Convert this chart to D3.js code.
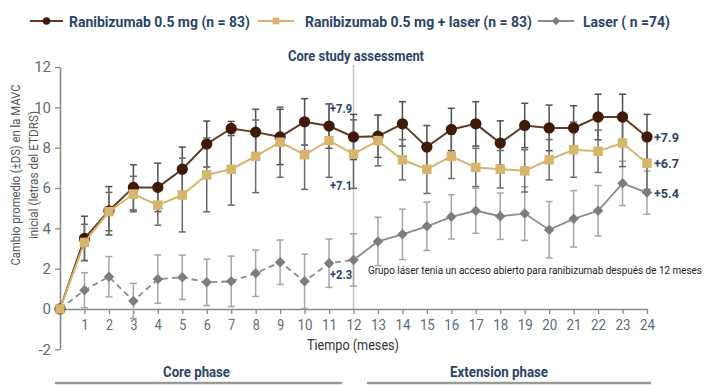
<!DOCTYPE html>
<html>
<head>
<meta charset="utf-8">
<script src="https://cdn.jsdelivr.net/npm/d3@7"></script>
<style>
  body { margin: 0; background: #fff; }
  text { font-family: Roboto, "Noto Sans", sans-serif; }
</style>
</head>
<body>
<svg width="711" height="385"></svg>
<script>
// months on the x axis
const months = [0, 1, 2, 3, 4, 5, 6, 7, 8, 9, 10, 11, 12, 13, 14, 15, 16, 17, 18, 19, 20, 21, 22, 23, 24];
const yTicks = [-2, 0, 2, 4, 6, 8, 10, 12];

// mean change in BCVA (letters)
const ranibizumab = [0, 3.5, 4.87, 6.03, 6.03, 6.93, 8.18, 8.95, 8.77, 8.53, 9.28, 9.07, 8.53, 8.57, 9.18, 8.03, 8.9, 9.18, 8.23, 9.1, 8.98, 8.98, 9.52, 9.52, 8.53];
const ranibizumabSD = [0, 1.1, 1.2, 1.12, 1.2, 1.1, 1.14, 0.35, 1.13, 1.37, 1.15, 1.1, 1.12, 1.05, 1.1, 1.07, 1.05, 1.1, 1.1, 1.1, 1.13, 1.1, 1.13, 1.13, 1.12];

const combo = [0, 3.3, 4.83, 5.7, 5.15, 5.65, 6.65, 6.93, 7.57, 8.27, 7.65, 8.35, 7.68, 8.35, 7.4, 6.93, 7.57, 7.02, 6.93, 6.85, 7.4, 7.9, 7.82, 8.23, 7.23];
const comboSD = [0, 0.9, 0.95, 0.88, 1.0, 1.83, 1.83, 1.78, 1.8, 1.74, 1.72, 1.82, 1.7, 1.25, 1.0, 1.2, 1.1, 0.95, 0.93, 1.05, 1.0, 1.37, 1.05, 1.17, 1.3];

const laser = [0, 0.93, 1.6, 0.4, 1.48, 1.57, 1.32, 1.37, 1.77, 2.32, 1.37, 2.27, 2.43, 3.35, 3.7, 4.1, 4.57, 4.87, 4.6, 4.73, 3.93, 4.47, 4.87, 6.23, 5.77];
const laserSD = [0, 0.87, 1.0, 0.87, 1.2, 1.1, 1.15, 1.25, 1.15, 1.1, 1.35, 1.2, 1.3, 1.2, 1.25, 1.2, 1.1, 1.12, 1.15, 1.33, 1.4, 1.4, 1.25, 1.1, 1.07];

const legendLabels = ["Ranibizumab 0.5 mg (n = 83)", "Ranibizumab 0.5 mg + laser (n = 83)", "Laser ( n =74)"];

const navy = "#2a4566";
const svg = d3.select("svg");

// squeeze text to the condensed widths of the original
function fit(sel, w) {
  return sel.attr("textLength", w).attr("lengthAdjust", "spacingAndGlyphs");
}

const x = d3.scaleLinear().domain([0, 24]).range([60, 647]);
const y = d3.scaleLinear().domain([-2, 12]).range([349.3, 67]);

// month 12 divider
svg.append("line")
  .attr("x1", x(12)).attr("x2", x(12))
  .attr("y1", 65).attr("y2", y(0))
  .attr("stroke", "#c4c4c4").attr("stroke-width", 1.5);

fit(svg.append("text")
  .attr("x", 288).attr("y", 61)
  .attr("font-size", 15).attr("font-weight", "bold")
  .attr("fill", navy)
  .text("Core study assessment"), 136);

// axes
const yAxis = svg.append("g")
  .attr("transform", "translate(60,0)")
  .call(d3.axisLeft(y).tickValues(yTicks).tickSize(5).tickSizeOuter(0).tickPadding(4)
    .tickFormat(d => (d < 0 ? "-" + Math.abs(d) : d)));
const xAxis = svg.append("g")
  .attr("transform", `translate(0,${y(0)})`)
  .call(d3.axisBottom(x).tickValues(months.slice(1)).tickSize(5).tickSizeOuter(0).tickPadding(5));

[yAxis, xAxis].forEach(g => {
  g.select(".domain").attr("stroke", "#8a8a8a").attr("stroke-width", 1.6);
  g.selectAll(".tick line").attr("stroke", "#8a8a8a").attr("stroke-width", 1.3);
  g.selectAll(".tick text").attr("fill", "#5c6b7a").attr("font-size", 15)
    .style("font-family", "Roboto, sans-serif");
});
xAxis.selectAll(".tick text").each(function (d) {
  fit(d3.select(this), d < 10 ? 7 : 15);
});

fit(svg.append("text")
  .attr("x", 307).attr("y", 350)
  .attr("font-size", 14).attr("fill", "#333")
  .text("Tiempo (meses)"), 92);

const yTitle = svg.append("text")
  .attr("transform", "translate(20,175) rotate(-90)")
  .attr("text-anchor", "middle")
  .attr("font-size", 13).attr("fill", "#555");
fit(yTitle.append("tspan").attr("x", 0).attr("dy", 0), 181).text("Cambio promedio (±DS) en la MAVC");
fit(yTitle.append("tspan").attr("x", 0).attr("dy", 18), 128).text("inicial (letras del ETDRS)");

// series
const series = [
  { values: laser, sd: laserSD, line: "#8c8c8c", bar: "#a6a6a6", marker: "diamond", fill: "#7d7d7d" },
  { values: ranibizumab, sd: ranibizumabSD, line: "#5e3b27", bar: "#4f4f4f", marker: "circle", fill: "#3f1a08" },
  { values: combo, sd: comboSD, line: "#d6b46e", bar: "#6a6a6a", marker: "square", fill: "#d8b56d" }
];

const cap = 3.5;
series.forEach(s => {
  const g = svg.append("g");
  months.forEach((m, i) => {
    if (s.sd[i] === 0) return;
    const top = y(s.values[i] + s.sd[i]), bot = y(s.values[i] - s.sd[i]);
    g.append("line").attr("x1", x(m)).attr("x2", x(m)).attr("y1", top).attr("y2", bot)
      .attr("stroke", s.bar).attr("stroke-width", 1.5);
    [top, bot].forEach(v => g.append("line")
      .attr("x1", x(m) - cap).attr("x2", x(m) + cap).attr("y1", v).attr("y2", v)
      .attr("stroke", s.bar).attr("stroke-width", 1.5));
  });
});

const line = d3.line().x(d => x(d[0])).y(d => y(d[1]));
const symbols = {
  circle: d3.symbol().type(d3.symbolCircle).size(100),
  square: d3.symbol().type(d3.symbolSquare).size(90),
  diamond: d3.symbol().type(d3.symbolDiamond2).size(70)
};

series.forEach(s => {
  const pts = months.map((m, i) => [m, s.values[i]]);
  if (s.marker === "diamond") {
    svg.append("path").attr("d", line(pts.slice(0, 13)))
      .attr("fill", "none").attr("stroke", s.line).attr("stroke-width", 1.8)
      .attr("stroke-dasharray", "6,4");
    svg.append("path").attr("d", line(pts.slice(12)))
      .attr("fill", "none").attr("stroke", s.line).attr("stroke-width", 1.8);
  } else {
    svg.append("path").attr("d", line(pts))
      .attr("fill", "none").attr("stroke", s.line).attr("stroke-width", 2);
  }
  svg.append("g").selectAll("path").data(pts).join("path")
    .attr("transform", d => `translate(${x(d[0])},${y(d[1])})`)
    .attr("d", symbols[s.marker])
    .attr("fill", s.fill);
});

// annotations
const notes = [
  { m: 11, v: 9.9, t: "+7.9" }, { m: 11, v: 6.1, t: "+7.1" }, { m: 11, v: 1.7, t: "+2.3" }
];
svg.append("g").selectAll("text").data(notes).join("text")
  .attr("x", d => x(d.m) + 1).attr("y", d => y(d.v) + 4)
  .attr("font-size", 12).attr("font-weight", "bold").attr("fill", navy)
  .attr("textLength", 22).attr("lengthAdjust", "spacingAndGlyphs")
  .text(d => d.t);

const endNotes = [
  { v: ranibizumab[24], t: "+7.9" }, { v: combo[24], t: "+6.7" }, { v: laser[24], t: "+5.4" }
];
svg.append("g").selectAll("text").data(endNotes).join("text")
  .attr("x", x(24) + 7).attr("y", d => y(d.v) + 5)
  .attr("font-size", 13).attr("font-weight", "bold").attr("fill", navy)
  .attr("textLength", 25).attr("lengthAdjust", "spacingAndGlyphs")
  .text(d => d.t);

fit(svg.append("text")
  .attr("x", 368).attr("y", 274)
  .attr("font-size", 10).attr("fill", "#222")
  .text("Grupo láser tenia un acceso abierto para ranibizumab después de 12 meses"), 334);

// legend
const legendLine0 = [30, 258, 538];
const legendLine1 = [63, 294, 574];
const legendText = [69, 305, 583];
const legendWidth = [181, 227, 87];
const legendSym = [d3.symbolCircle, d3.symbolSquare, d3.symbolDiamond2];
const legendLine = ["#5e3b27", "#d6b46e", "#8c8c8c"];
const legendFill = ["#3f1a08", "#d8b56d", "#7d7d7d"];
legendLabels.forEach((lab, i) => {
  const g = svg.append("g").attr("transform", "translate(0,21)");
  g.append("line").attr("x1", legendLine0[i]).attr("x2", legendLine1[i])
    .attr("stroke", legendLine[i]).attr("stroke-width", 2);
  g.append("path").attr("transform", `translate(${(legendLine0[i] + legendLine1[i]) / 2},0)`)
    .attr("d", d3.symbol().type(legendSym[i]).size(45))
    .attr("fill", legendFill[i]);
  fit(g.append("text").attr("x", legendText[i]).attr("y", 5.5)
    .attr("font-size", 15).attr("font-weight", "bold").attr("fill", navy)
    .text(lab), legendWidth[i]);
});

// phase labels
const phases = [
  { t: "Core phase", a: 55, b: 342, tx: 163, w: 67 },
  { t: "Extension phase", a: 367, b: 651, tx: 450, w: 98 }
];
phases.forEach(p => {
  svg.append("line").attr("x1", p.a).attr("x2", p.b).attr("y1", 383).attr("y2", 383)
    .attr("stroke", "#9a9a9a").attr("stroke-width", 2.5);
  fit(svg.append("text").attr("x", p.tx).attr("y", 377)
    .attr("font-size", 15).attr("font-weight", "bold").attr("fill", navy)
    .text(p.t), p.w);
});
</script>
</body>
</html>
